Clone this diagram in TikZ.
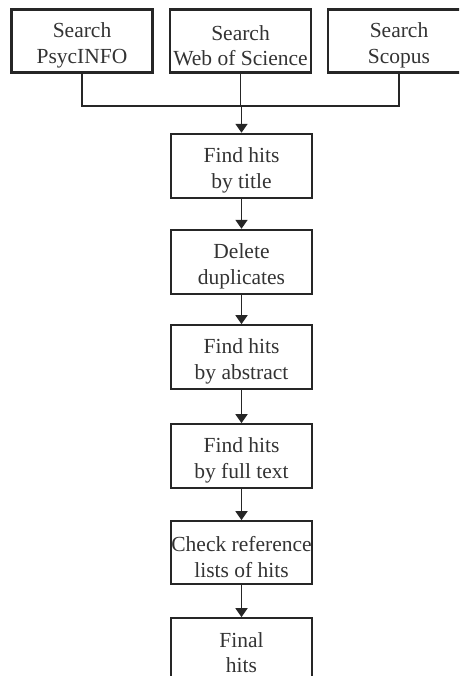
\documentclass[tikz,border=0pt]{standalone}
\usepackage{fontspec}
\setmainfont{Liberation Serif}
\usetikzlibrary{arrows.meta}
\newcommand\topstrut{\rule{0pt}{24pt}}
\begin{document}
\begin{tikzpicture}[x=1pt,y=-1pt,
  box/.style={draw=black!85, line width=2.4pt, minimum width=141pt, minimum height=63pt, inner sep=0pt, align=center,
    font=\fontsize{21.5}{25.5}\selectfont, text=black!80},
  thinbox/.style={box, line width=1.7pt},
  conn/.style={draw=black!85, line width=1.8pt},
  arr/.style={conn, -{Triangle[width=12pt,length=9pt]}}]
\useasboundingbox (0,0) rectangle (459,676);
\clip (0,0) rectangle (459,676);
\node[box] (s1) at (82,41) {\topstrut Search\\PsycINFO};
\node[box] (s2) at (240.5,41) {\topstrut Search\\Web of Science};
\node[box, minimum width=142pt] (s3) at (399,41) {\topstrut Search\\Scopus};
\node[box, minimum height=64pt] (b1) at (241.5,166) {\topstrut Find hits\\by title};
\node[box, minimum height=64pt] (b2) at (241.5,262) {\topstrut Delete\\duplicates};
\node[thinbox, minimum height=64pt] (b3) at (241.5,357) {\topstrut Find hits\\by abstract};
\node[thinbox, minimum height=64pt] (b4) at (241.5,456) {\topstrut Find hits\\by full text};
\node[thinbox] (b5) at (241.5,552.5) {\topstrut Check reference\\lists of hits};
\node[thinbox, minimum height=64pt] (b6) at (241.5,650) {\rule{0pt}{20pt}Final\\hits};
\coordinate (j) at (241.5,106);
\draw[conn] (s1.south) |- (j);
\draw[conn] (s3.south) |- (j);
\draw[conn] (s2.south) -- (s2.south |- j);
\draw[arr] (j) -- (b1.north);
\draw[arr] (b1) -- (b2);
\draw[arr] (b2) -- (b3);
\draw[arr] (b3) -- (b4);
\draw[arr] (b4) -- (b5);
\draw[arr] (b5) -- (b6);
\end{tikzpicture}
\end{document}
